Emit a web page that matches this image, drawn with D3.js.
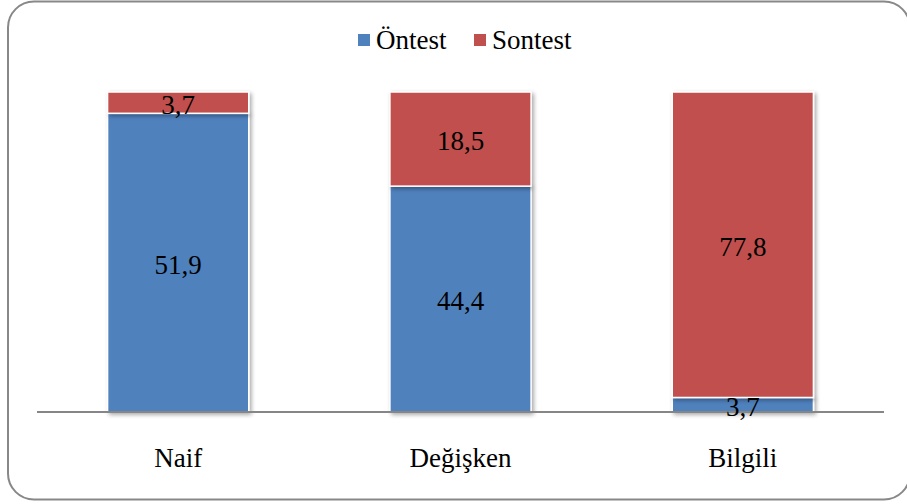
<!DOCTYPE html>
<html>
<head>
<meta charset="utf-8">
<script src="https://cdn.jsdelivr.net/npm/d3@7"></script>
<style>
  html, body { margin: 0; padding: 0; background: #fff; }
  svg { display: block; }
</style>
</head>
<body>
<svg id="chart" width="907" height="504"></svg>
<script>
// Category names and series values (percent)
const categories = ["Naif", "Değişken", "Bilgili"];
const seriesNames = ["Öntest", "Sontest"];
const ontest = [51.9, 44.4, 3.7];
const sontest = [3.7, 18.5, 77.8];
const colors = ["#4F81BD", "#C0504D"];

const FONT = "Liberation Serif";
const FS = 27;
const svg = d3.select("#chart");

// drop shadow for bars
const defs = svg.append("defs");
const f = defs.append("filter").attr("id", "shadow")
  .attr("x", "-10%").attr("y", "-10%").attr("width", "130%").attr("height", "130%");
f.append("feGaussianBlur").attr("in", "SourceAlpha").attr("stdDeviation", 2.2).attr("result", "b");
f.append("feOffset").attr("in", "b").attr("dx", 1.5).attr("dy", 1.5).attr("result", "o");
f.append("feComponentTransfer").attr("in", "o").attr("result", "s")
  .append("feFuncA").attr("type", "linear").attr("slope", 0.35);
const m = f.append("feMerge");
m.append("feMergeNode").attr("in", "s");
m.append("feMergeNode").attr("in", "SourceGraphic");

// outer rounded frame
svg.append("rect")
  .attr("x", 8).attr("y", 1.5).attr("width", 902).attr("height", 498)
  .attr("rx", 26).attr("ry", 26)
  .attr("fill", "#fff").attr("stroke", "#888").attr("stroke-width", 2);

const plot = { left: 37, right: 884, top: 92, bottom: 412 };

const x = d3.scaleBand().domain(categories)
  .range([plot.left, plot.right]).paddingInner(0.5).paddingOuter(0.25);
const y = d3.scaleLinear().domain([0, 1]).range([plot.bottom, plot.top]);

// normalized stacking (100% stacked columns)
const rows = categories.map((c, i) => {
  const total = ontest[i] + sontest[i];
  return { cat: c, "Öntest": ontest[i] / total, "Sontest": sontest[i] / total,
           raw: { "Öntest": ontest[i], "Sontest": sontest[i] } };
});
const stack = d3.stack().keys(seriesNames)(rows);

const bars = svg.append("g");
stack.forEach((layer, li) => {
  bars.append("g").attr("filter", "url(#shadow)")
    .selectAll("rect").data(layer).join("rect")
    .attr("x", d => x(d.data.cat))
    .attr("y", d => y(d[1]))
    .attr("width", x.bandwidth())
    .attr("height", d => y(d[0]) - y(d[1]))
    .attr("fill", colors[li])
    .attr("stroke", "#fff").attr("stroke-width", 1.5);
});

// axis baseline
svg.append("line")
  .attr("x1", plot.left).attr("x2", plot.right)
  .attr("y1", plot.bottom).attr("y2", plot.bottom)
  .attr("stroke", "#868686").attr("stroke-width", 2);

// value labels
stack.forEach((layer, li) => {
  svg.append("g").selectAll("text").data(layer).join("text")
    .attr("x", d => x(d.data.cat) + x.bandwidth() / 2)
    .attr("y", d => (y(d[0]) + y(d[1])) / 2 + 11)
    .attr("text-anchor", "middle")
    .attr("font-size", FS)
    .style("font-family", FONT)
    .attr("fill", "#000")
    .text(d => d3.format(".1f")(d.data.raw[seriesNames[li]]).replace(".", ","));
});

// category axis labels
const xAxis = d3.axisBottom(x).tickSize(0).tickPadding(0);
const ax = svg.append("g").attr("transform", `translate(0,${plot.bottom})`).call(xAxis);
ax.select(".domain").remove();
ax.attr("font-family", null).attr("font-size", null);
ax.selectAll("text")
  .attr("font-size", FS)
  .style("font-family", FONT)
  .attr("fill", "#000").attr("dy", 0).attr("y", 55);

// legend
const legend = svg.append("g");
const legItems = [
  { name: seriesNames[0], x: 358 },
  { name: seriesNames[1], x: 474 }
];
legItems.forEach((it, i) => {
  legend.append("rect").attr("x", it.x).attr("y", 34).attr("width", 12).attr("height", 12)
    .attr("fill", colors[i]);
  legend.append("text").attr("x", it.x + 18).attr("y", 49)
    .attr("font-size", FS)
    .style("font-family", FONT)
    .attr("fill", "#000").text(it.name);
});
</script>
</body>
</html>
